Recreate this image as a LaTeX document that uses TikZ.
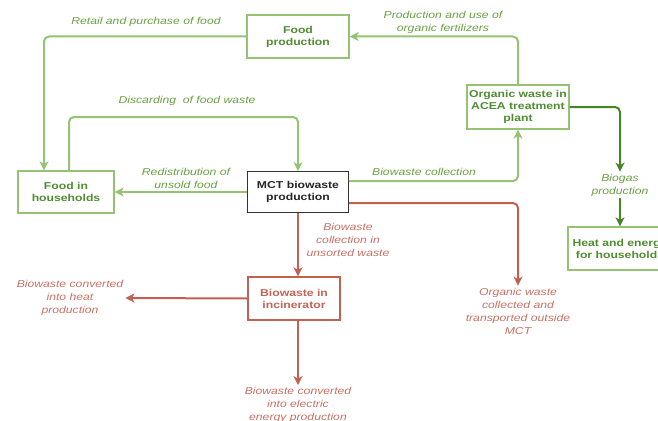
\documentclass[tikz,border=0pt]{standalone}
\usepackage{fontspec}
\setmainfont[FakeStretch=1.22]{Liberation Sans}
\usetikzlibrary{arrows.meta,calc}
\definecolor{lgreen}{RGB}{150,195,115}
\definecolor{gtext}{RGB}{80,140,48}
\definecolor{glabel}{RGB}{105,160,65}
\definecolor{dgreen}{RGB}{70,132,38}
\definecolor{rline}{RGB}{194,96,82}
\definecolor{rtext}{RGB}{194,100,86}
\definecolor{rlabel}{RGB}{200,112,100}
\tikzset{
  gbox/.style={draw=lgreen,line width=1.3pt,fill=white,text=gtext,font=\bfseries\fontsize{10}{12}\selectfont,align=center,inner sep=0pt},
  kbox/.style={draw=black!80,line width=0.9pt,fill=white,text=black!85,font=\bfseries\fontsize{10}{12}\selectfont,align=center,inner sep=0pt},
  rbox/.style={draw=rline,line width=1.3pt,fill=white,text=rtext,font=\bfseries\fontsize{10}{12}\selectfont,align=center,inner sep=0pt},
  glab/.style={text=glabel,font=\itshape\fontsize{10}{13}\selectfont,align=center,inner sep=1pt},
  dglab/.style={text=glabel,font=\itshape\fontsize{10}{13}\selectfont,align=center,inner sep=2pt},
  rlab/.style={text=rlabel,font=\itshape\fontsize{10}{13}\selectfont,align=center,inner sep=2pt},
  tip/.style={-{Stealth[length=9pt,width=9pt,inset=2.5pt]}},
  gline/.style={draw=lgreen,line width=2pt,rounded corners=5pt,tip},
  dgline/.style={draw=dgreen,line width=2pt,rounded corners=5pt,tip},
  rarr/.style={draw=rline,line width=2pt,rounded corners=5pt,tip},
}
\begin{document}
\begin{tikzpicture}[x=1pt,y=-1pt]
\useasboundingbox (0,0) rectangle (658,420);
\clip (0,0) rectangle (658,420);
% boxes
\node[gbox,minimum width=102pt,minimum height=43pt] (fp) at (298,36.5) {Food\\production};
\node[gbox,minimum width=96pt,minimum height=42pt] (fh) at (66,192) {Food in\\households};
\node[kbox,minimum width=101pt,minimum height=41pt] (mct) at (298,192) {MCT biowaste\\production};
\node[gbox,minimum width=102pt,minimum height=44pt] (acea) at (518,107) {Organic waste in\\ACEA treatment\\plant};
\node[gbox,minimum width=104pt,minimum height=43pt] (heat) at (620,248.5) {Heat and energy\\for households};
\node[rbox,minimum width=92pt,minimum height=43pt] (inc) at (294,298.5) {Biowaste in\\incinerator};
% labels
\node[glab] (lretail) at (146,22) {Retail and purchase of food};
\node[glab] (ldisc) at (187,101) {Discarding\ \ of food waste};
\node[glab] (lfert) at (443,22) {Production and use of\\organic fertilizers};
\node[glab] (lredis) at (186,178) {Redistribution of\\unsold food};
\node[glab] (lcoll) at (424,172) {Biowaste collection};
\node[dglab] (lbiogas) at (620,185) {Biogas\\production};
\node[rlab] (lunsort) at (348,240) {Biowaste\\collection in\\unsorted waste};
\node[rlab] (lout) at (518,311) {Organic waste\\collected and\\transported outside\\MCT};
\node[rlab] (lheat) at (70,298) {Biowaste converted\\into heat\\production};
\node[rlab] (lelec) at (298,405) {Biowaste converted\\into electric\\energy production};
% helper coordinates
\coordinate (xa) at (44,0);
\coordinate (xb) at (69,0);
\coordinate (ya) at (0,117);
\coordinate (yb) at (0,181);
\coordinate (yc) at (0,203);
% green connectors
\draw[gline] (fp.west) -| (xa |- fh.north);
\draw[gline] (xb |- fh.north) -- (xb |- ya) -| (mct.north);
\draw[gline] (mct.west) -- (fh.east);
\draw[gline] (mct.east |- yb) -| (acea.south);
\draw[gline] (acea.north) |- (fp.east);
% dark green
\draw[dgline] (acea.east) -| (lbiogas.north);
\draw[dgline] (lbiogas.south) -- (heat.north);
% red
\draw[rarr] (mct.south) -- (mct.south |- inc.north);
\draw[rarr] (mct.east |- yc) -| (lout.north);
\draw[rarr] (inc.west) -- (lheat.east);
\draw[rarr] (mct.south |- inc.south) -- (lelec.north);
\end{tikzpicture}
\end{document}
